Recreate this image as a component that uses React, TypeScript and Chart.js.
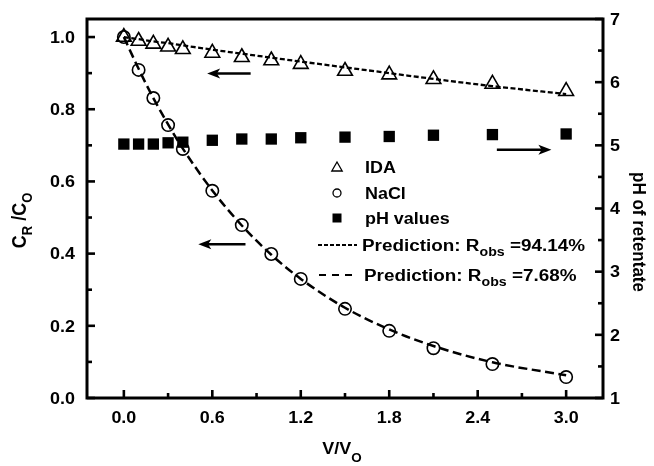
import React, { useEffect, useRef } from "react";
import { Chart, registerables } from "chart.js";

Chart.register(...registerables);

// ---- data ----
const vRatio = [0, 0.1, 0.2, 0.3, 0.4, 0.6, 0.8, 1.0, 1.2, 1.5, 1.8, 2.1, 2.5, 3.0];
const idaObs = [1.0, 0.989, 0.981, 0.973, 0.966, 0.956, 0.944, 0.935, 0.925, 0.906, 0.896, 0.883, 0.87, 0.85];
const naclObs = [1.0, 0.909, 0.831, 0.756, 0.69, 0.574, 0.479, 0.399, 0.33, 0.247, 0.186, 0.138, 0.094, 0.058];
const phObs = [5.02, 5.02, 5.02, 5.04, 5.05, 5.08, 5.1, 5.1, 5.12, 5.13, 5.14, 5.16, 5.17, 5.18];
const idaPred = [1.0, 0.994, 0.988, 0.983, 0.977, 0.965, 0.954, 0.943, 0.932, 0.916, 0.9, 0.884, 0.864, 0.842];
const naclPred = [1.0, 0.912, 0.831, 0.758, 0.691, 0.575, 0.478, 0.397, 0.33, 0.25, 0.19, 0.144, 0.099, 0.063];

const xTickValues = [0, 0.6, 1.2, 1.8, 2.4, 3.0];
const yTickValues = [0, 0.2, 0.4, 0.6, 0.8, 1.0];
const y1TickValues = [1, 2, 3, 4, 5, 6, 7];

const legendLabels = ["IDA", "NaCl", "pH values"];
const predLabels = ["=94.14%", "=7.68%"];

// arrows in data units: [xFrom, xTo, y, axis]
const arrows: [number, number, number, string][] = [
  [0.86, 0.565, 0.899, "y"],
  [0.825, 0.505, 0.426, "y"],
  [2.53, 2.9, 4.93, "y1"],
];

const FONT = '"Liberation Sans", Arial, Helvetica, sans-serif';
const SX = 1.12;

type Part = { t: string; size: number; dy?: number };

function drawParts(
  ctx: CanvasRenderingContext2D,
  parts: Part[],
  x: number,
  y: number,
  align: "left" | "right" | "center",
  rot = 0,
  sx = SX,
  sy = 1
) {
  ctx.save();
  ctx.translate(x, y);
  if (rot) ctx.rotate(rot);
  ctx.scale(sx, sy);
  ctx.textAlign = "left";
  ctx.textBaseline = "alphabetic";
  ctx.fillStyle = "#000";
  let total = 0;
  const widths: number[] = [];
  for (const p of parts) {
    ctx.font = `bold ${p.size}px ${FONT}`;
    const w = ctx.measureText(p.t).width;
    widths.push(w);
    total += w;
  }
  let cx = align === "left" ? 0 : align === "right" ? -total : -total / 2;
  parts.forEach((p, i) => {
    ctx.font = `bold ${p.size}px ${FONT}`;
    ctx.fillText(p.t, cx, p.dy || 0);
    cx += widths[i];
  });
  ctx.restore();
}

function triangle(ctx: CanvasRenderingContext2D, x: number, y: number, r: number) {
  ctx.beginPath();
  ctx.moveTo(x, y - r);
  ctx.lineTo(x + r * Math.sin(Math.PI / 3), y + r / 2);
  ctx.lineTo(x - r * Math.sin(Math.PI / 3), y + r / 2);
  ctx.closePath();
  ctx.stroke();
}

const decorPlugin = {
  id: "decor",
  afterDraw(chart: any) {
    const ctx: CanvasRenderingContext2D = chart.ctx;
    const { left, right, top, bottom } = chart.chartArea;
    const sx = chart.scales.x;
    const sy = chart.scales.y;
    const sy1 = chart.scales.y1;
    ctx.save();
    ctx.strokeStyle = "#000";
    ctx.fillStyle = "#000";
    ctx.setLineDash([]);

    // frame
    ctx.lineWidth = 3;
    ctx.strokeRect(left, top, right - left, bottom - top);

    // inward ticks
    ctx.lineWidth = 2.6;
    const major = 8;
    const minor = 5;
    const tickSet = (vals: number[], fn: (v: number, len: number) => void) => {
      vals.forEach((v, i) => {
        fn(v, major);
        if (i < vals.length - 1) fn((v + vals[i + 1]) / 2, minor);
      });
    };
    tickSet(xTickValues, (v, len) => {
      const px = sx.getPixelForValue(v);
      ctx.beginPath();
      ctx.moveTo(px, bottom);
      ctx.lineTo(px, bottom - len);
      ctx.stroke();
    });
    tickSet(yTickValues, (v, len) => {
      const py = sy.getPixelForValue(v);
      ctx.beginPath();
      ctx.moveTo(left, py);
      ctx.lineTo(left + len, py);
      ctx.stroke();
    });
    tickSet(y1TickValues, (v, len) => {
      const py = sy1.getPixelForValue(v);
      ctx.beginPath();
      ctx.moveTo(right, py);
      ctx.lineTo(right - len, py);
      ctx.stroke();
    });

    // tick labels
    const fs = 16;
    const half = 0.716 * fs * 0.5;
    xTickValues.forEach((v) => {
      drawParts(ctx, [{ t: v.toFixed(1), size: fs }], sx.getPixelForValue(v), bottom + 24.5, "center");
    });
    yTickValues.forEach((v) => {
      drawParts(ctx, [{ t: v.toFixed(1), size: fs }], left - 12, sy.getPixelForValue(v) + half, "right");
    });
    y1TickValues.forEach((v) => {
      drawParts(ctx, [{ t: String(v), size: fs }], right + 7, sy1.getPixelForValue(v) + half, "left");
    });

    // axis titles
    drawParts(
      ctx,
      [
        { t: "C", size: 18 },
        { t: "R", size: 13, dy: 5 },
        { t: " /C", size: 18 },
        { t: "O", size: 13, dy: 5 },
      ],
      26,
      (top + bottom) / 2 + 12,
      "center",
      -Math.PI / 2,
      1,
      SX
    );
    drawParts(ctx, [{ t: "pH of retentate", size: 17 }], 633, 232, "center", Math.PI / 2, 1, SX);
    drawParts(
      ctx,
      [
        { t: "V/V", size: 16 },
        { t: "O", size: 12, dy: 8 },
      ],
      342,
      454,
      "center"
    );

    // arrows
    ctx.lineWidth = 2.5;
    arrows.forEach(([x0, x1, yv, ax]) => {
      const scale = ax === "y" ? sy : sy1;
      const p0 = sx.getPixelForValue(x0);
      const p1 = sx.getPixelForValue(x1);
      const py = scale.getPixelForValue(yv);
      const dir = p1 > p0 ? 1 : -1;
      const head = 13;
      ctx.beginPath();
      ctx.moveTo(p0, py);
      ctx.lineTo(p1 - dir * head * 0.6, py);
      ctx.stroke();
      ctx.beginPath();
      ctx.moveTo(p1, py);
      ctx.lineTo(p1 - dir * head, py - 5);
      ctx.lineTo(p1 - dir * head * 0.75, py);
      ctx.lineTo(p1 - dir * head, py + 5);
      ctx.closePath();
      ctx.fill();
    });

    // legend
    const lx = 337;
    const tx = 365;
    const rows = [167, 193, 218];
    ctx.lineWidth = 1.3;
    triangle(ctx, lx, rows[0] + 1, 6);
    ctx.beginPath();
    ctx.arc(lx, rows[1], 4, 0, Math.PI * 2);
    ctx.stroke();
    ctx.fillRect(lx - 4.5, rows[2] - 4.5, 9, 9);
    legendLabels.forEach((s, i) => {
      drawParts(ctx, [{ t: s, size: 16 }], tx, rows[i] + half, "left");
    });
    const predRows = [245, 275];
    ctx.lineWidth = 2;
    ctx.setLineDash([4, 2]);
    ctx.beginPath();
    ctx.moveTo(318, predRows[0]);
    ctx.lineTo(357, predRows[0]);
    ctx.stroke();
    ctx.setLineDash([7, 6]);
    ctx.beginPath();
    ctx.moveTo(319, predRows[1]);
    ctx.lineTo(358, predRows[1]);
    ctx.stroke();
    ctx.setLineDash([]);
    predLabels.forEach((s, i) => {
      drawParts(
        ctx,
        [
          { t: "Prediction: R", size: 16 },
          { t: "obs", size: 12, dy: 5 },
          { t: " " + s, size: 16 },
        ],
        i === 0 ? 362 : 364,
        predRows[i] + half,
        "left",
        0,
        1.18
      );
    });
    ctx.restore();
  },
};

export default function App() {
  const ref = useRef<HTMLCanvasElement | null>(null);
  useEffect(() => {
    document.body.style.margin = "0";
    const canvas = ref.current;
    if (!canvas) return;
    const pts = (ys: number[]) => vRatio.map((x, i) => ({ x, y: ys[i] }));
    const hidden = {
      grid: { display: false, drawTicks: false },
      border: { display: false },
      ticks: { display: false },
    };
    const chart = new Chart(canvas, {
      type: "scatter",
      data: {
        datasets: [
          {
            label: "IDA",
            data: pts(idaObs),
            yAxisID: "y",
            pointStyle: "triangle",
            pointRadius: 8.5,
            pointBorderWidth: 1.6,
            pointBorderColor: "#000",
            pointBackgroundColor: "rgba(0,0,0,0)",
            borderColor: "#000",
            backgroundColor: "rgba(0,0,0,0)",
          },
          {
            label: "NaCl",
            data: pts(naclObs),
            yAxisID: "y",
            pointStyle: "circle",
            pointRadius: 6.2,
            pointBorderWidth: 1.6,
            pointBorderColor: "#000",
            pointBackgroundColor: "rgba(0,0,0,0)",
            borderColor: "#000",
            backgroundColor: "rgba(0,0,0,0)",
          },
          {
            label: "pH values",
            data: pts(phObs),
            yAxisID: "y1",
            pointStyle: "rect",
            pointRadius: 8,
            pointBorderWidth: 0,
            pointBorderColor: "#000",
            pointBackgroundColor: "#000",
            borderColor: "#000",
            backgroundColor: "#000",
          },
          {
            label: "Prediction IDA",
            data: pts(idaPred),
            yAxisID: "y",
            showLine: true,
            pointRadius: 0,
            borderColor: "#000",
            borderWidth: 2.3,
            borderDash: [5, 2.5],
            cubicInterpolationMode: "monotone",
          },
          {
            label: "Prediction NaCl",
            data: pts(naclPred),
            yAxisID: "y",
            showLine: true,
            pointRadius: 0,
            borderColor: "#000",
            borderWidth: 2.5,
            borderDash: [9, 4.5],
            cubicInterpolationMode: "monotone",
          },
        ],
      },
      options: {
        responsive: false,
        animation: false,
        events: [],
        layout: { padding: { top: 19, left: 0, right: 0, bottom: 0 } },
        plugins: { legend: { display: false }, tooltip: { enabled: false } },
        scales: {
          x: {
            type: "linear",
            min: -0.25,
            max: 3.25,
            ...hidden,
            afterBuildTicks: (s: any) => {
              s.ticks = xTickValues.map((v) => ({ value: v }));
            },
            afterFit: (s: any) => {
              s.height = 68;
            },
          },
          y: {
            type: "linear",
            position: "left",
            min: 0,
            max: 1.05,
            ...hidden,
            afterBuildTicks: (s: any) => {
              s.ticks = yTickValues.map((v) => ({ value: v }));
            },
            afterFit: (s: any) => {
              s.width = 87;
            },
          },
          y1: {
            type: "linear",
            position: "right",
            min: 1,
            max: 7,
            ...hidden,
            afterBuildTicks: (s: any) => {
              s.ticks = y1TickValues.map((v) => ({ value: v }));
            },
            afterFit: (s: any) => {
              s.width = 51;
            },
          },
        },
      } as any,
      plugins: [decorPlugin],
    });
    return () => chart.destroy();
  }, []);
  return (
    <div style={{ width: 654, height: 466, background: "#fff" }}>
      <canvas ref={ref} width={654} height={466} style={{ display: "block" }} />
    </div>
  );
}
